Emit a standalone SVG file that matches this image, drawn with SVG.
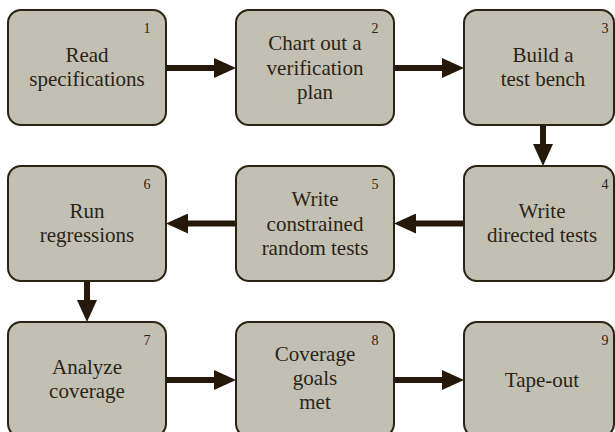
<svg xmlns="http://www.w3.org/2000/svg" width="615" height="432" viewBox="0 0 615 432">
<defs>
<style>
.box{fill:#c2c0b2;stroke:#2a2213;stroke-width:2}
.t{font-family:"Liberation Serif","Times New Roman",serif;font-size:21px;fill:#2a2418;text-anchor:middle}
.n{font-family:"Liberation Serif","Times New Roman",serif;font-size:14px;fill:#2a2418;text-anchor:middle}
.c{stroke:#24190a;stroke-width:6;fill:none;marker-end:url(#ah)}
</style>
<marker id="ah" markerUnits="userSpaceOnUse" markerWidth="22" markerHeight="20" refX="2" refY="10" orient="auto">
<path d="M0,0 L22,10 L0,20 z" fill="#24190a"/>
</marker>
</defs>
<rect width="615" height="432" fill="#ffffff"/>
<g id="connectors">
<line class="c" x1="166" y1="68" x2="216" y2="68"/>
<line class="c" x1="394" y1="68" x2="444" y2="68"/>
<line class="c" x1="543" y1="125" x2="543" y2="146"/>
<line class="c" x1="464" y1="223.5" x2="414" y2="223.5"/>
<line class="c" x1="236" y1="223.5" x2="186" y2="223.5"/>
<line class="c" x1="87" y1="281" x2="87" y2="302"/>
<line class="c" x1="166" y1="380" x2="216" y2="380"/>
<line class="c" x1="394" y1="380" x2="444" y2="380"/>
</g>
<g id="n1">
<rect class="box" x="8" y="10" width="158" height="115" rx="13"/>
<text class="n" x="147" y="33">1</text>
<text class="t" x="87" y="62">Read</text>
<text class="t" x="87" y="86">specifications</text>
</g>
<g id="n2">
<rect class="box" x="236" y="10" width="158" height="115" rx="13"/>
<text class="n" x="375" y="33">2</text>
<text class="t" x="315" y="50">Chart out a</text>
<text class="t" x="315" y="74.5">verification</text>
<text class="t" x="315" y="99">plan</text>
</g>
<g id="n3">
<rect class="box" x="464" y="10" width="150" height="115" rx="13"/>
<text class="n" x="605" y="33">3</text>
<text class="t" x="543" y="62">Build a</text>
<text class="t" x="543" y="86">test bench</text>
</g>
<g id="n4">
<rect class="box" x="464" y="166" width="150" height="115" rx="13"/>
<text class="n" x="605" y="189">4</text>
<text class="t" x="542" y="218">Write</text>
<text class="t" x="542" y="242">directed tests</text>
</g>
<g id="n5">
<rect class="box" x="236" y="166" width="158" height="115" rx="13"/>
<text class="n" x="375" y="189">5</text>
<text class="t" x="315" y="206">Write</text>
<text class="t" x="315" y="230.5">constrained</text>
<text class="t" x="315" y="255">random tests</text>
</g>
<g id="n6">
<rect class="box" x="8" y="166" width="158" height="115" rx="13"/>
<text class="n" x="147" y="189">6</text>
<text class="t" x="87" y="218">Run</text>
<text class="t" x="87" y="242">regressions</text>
</g>
<g id="n7">
<rect class="box" x="8" y="322" width="158" height="115" rx="13"/>
<text class="n" x="147" y="345">7</text>
<text class="t" x="87" y="374">Analyze</text>
<text class="t" x="87" y="398">coverage</text>
</g>
<g id="n8">
<rect class="box" x="236" y="322" width="158" height="115" rx="13"/>
<text class="n" x="375" y="345">8</text>
<text class="t" x="315" y="361">Coverage</text>
<text class="t" x="315" y="385">goals</text>
<text class="t" x="315" y="409">met</text>
</g>
<g id="n9">
<rect class="box" x="464" y="322" width="150" height="115" rx="13"/>
<text class="n" x="605" y="345">9</text>
<text class="t" x="542" y="387">Tape-out</text>
</g>
</svg>
